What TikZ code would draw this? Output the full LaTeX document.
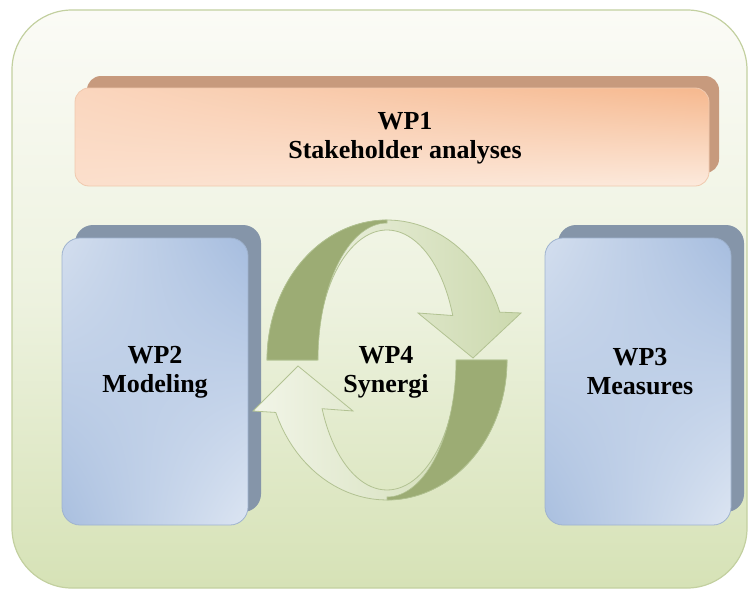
\documentclass[tikz,border=0pt]{standalone}
\usepackage{fontspec}
\setmainfont{Liberation Serif}
\usetikzlibrary{shadings}
\definecolor{frameTop}{HTML}{FBFBF6}
\definecolor{frameMid}{HTML}{EDF2DF}
\definecolor{frameBot}{HTML}{D6E2B6}
\definecolor{frameLine}{HTML}{C3D0A0}
\definecolor{orShadow}{HTML}{C79A7D}
\definecolor{orA}{HTML}{FAD6BE}
\definecolor{orB}{HTML}{F6B88E}
\definecolor{orC}{HTML}{FBDFCC}
\definecolor{orD}{HTML}{FCEADD}
\definecolor{orLine}{HTML}{F0C9AE}
\definecolor{blShadow}{HTML}{8595A9}
\definecolor{blA}{HTML}{D3DEEE}
\definecolor{blB}{HTML}{A6BDDF}
\definecolor{blC}{HTML}{A9BFDF}
\definecolor{blD}{HTML}{DCE5F2}
\definecolor{blLine}{HTML}{9FB3CF}
\definecolor{arDark}{HTML}{9CAC74}
\definecolor{arLightA}{HTML}{F2F5E8}
\definecolor{arLightB}{HTML}{CCD9AE}
\definecolor{arLine}{HTML}{B2C292}
\begin{document}
\begin{tikzpicture}[x=1pt,y=-1pt,
  lbl/.style={font=\bfseries\fontsize{26}{29}\selectfont, align=center, text=black, inner sep=0pt},
  framebox/.style={rounded corners=60pt, draw=frameLine, line width=1.2pt, top color=frameTop, bottom color=frameBot, middle color=frameMid},
  orshadow/.style={rounded corners=14pt, fill=orShadow},
  orbox/.style={rounded corners=14pt, draw=orLine, line width=0.8pt, upper left=orA, upper right=orB, lower left=orC, lower right=orD},
  blshadow/.style={rounded corners=18pt, fill=blShadow},
  blbox/.style={rounded corners=18pt, draw=blLine, line width=0.8pt, upper left=blA, upper right=blB, lower left=blC, lower right=blD},
  arlight/.style={draw=arLine, line width=0.8pt},
  ardark/.style={fill=arDark, draw=arLine, line width=0.6pt}
]
\useasboundingbox (0,0) rectangle (749,594);
% outer frame
\draw[framebox] (12,10) rectangle (747,588);
\coordinate (frame) at (380,299);
% WP1
\fill[orshadow] (87,76) rectangle (719,173);
\draw[orbox] (75,88) rectangle (709,186);
\node[lbl] (wp1) at (405,138) {WP1\\Stakeholder analyses};
% WP2
\fill[blshadow] (75,225) rectangle (261,512);
\draw[blbox] (62,238) rectangle (248,525);
\node[lbl] (wp2) at (155,372) {WP2\\Modeling};
% WP3
\fill[blshadow] (558,225) rectangle (744,512);
\draw[blbox] (545,238) rectangle (731,525);
\node[lbl] (wp3) at (640,372) {WP3\\Measures};
% cycle arrows: top arrow
\draw[arlight, left color=arLightA, right color=arLightB]
  plot[domain=180:340, samples=50] ({387+120*cos(\x)},{360+140*sin(\x)})
  -- (521,313) -- (473,358) -- (418,313) --
  plot[domain=340:180, samples=50] ({387+70*cos(\x)},{360+130*sin(\x)}) -- cycle;
\draw[ardark]
  plot[domain=180:270, samples=40] ({387+120*cos(\x)},{360+140*sin(\x)}) --
  plot[domain=270:180, samples=40] ({387+69*cos(\x)},{360+137*sin(\x)}) -- cycle;
% bottom arrow
\draw[arlight, left color=arLightA, right color=arLightB]
  plot[domain=0:158, samples=50] ({387+120*cos(\x)},{360+140*sin(\x)})
  -- (253,411) -- (298,366) -- (353,411) --
  plot[domain=158:0, samples=50] ({387+70*cos(\x)},{360+130*sin(\x)}) -- cycle;
\draw[ardark]
  plot[domain=0:90, samples=40] ({387+120*cos(\x)},{360+140*sin(\x)}) --
  plot[domain=90:0, samples=40] ({387+69*cos(\x)},{360+137*sin(\x)}) -- cycle;
\node[lbl] (wp4) at (386,372) {WP4\\Synergi};
\end{tikzpicture}
\end{document}
